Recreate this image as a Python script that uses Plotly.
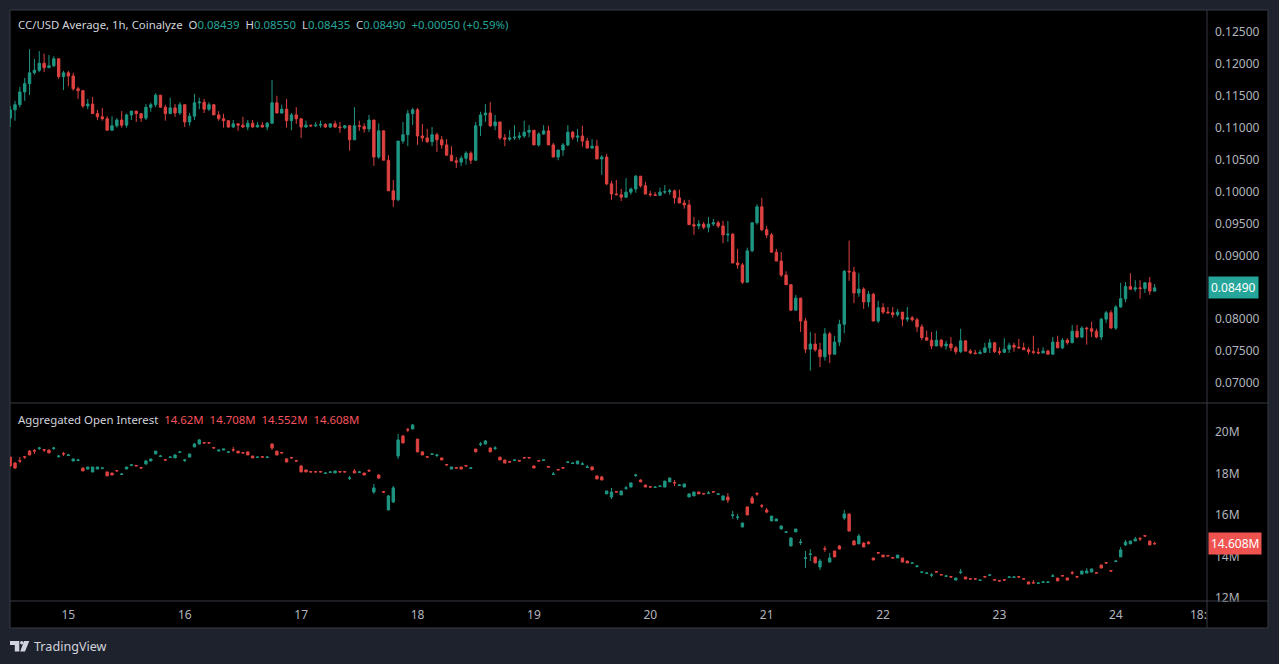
import pandas as pd
import plotly.graph_objects as go

# CC/USD hourly candles, Dec 14 12:00 -> Dec 24 08:00
price_open_first = 0.1115
price_close = [
    0.1128, 0.1136, 0.1156, 0.1169, 0.1186, 0.1190, 0.1201, 0.1194, 0.1197, 0.1208,
    0.1180, 0.1186, 0.1181, 0.1161, 0.1158, 0.1134, 0.1137, 0.1122, 0.1117, 0.1114,
    0.1096, 0.1103, 0.1112, 0.1104, 0.1120, 0.1126, 0.1122, 0.1115, 0.1132, 0.1136,
    0.1151, 0.1132, 0.1122, 0.1131, 0.1123, 0.1136, 0.1109, 0.1118, 0.1139, 0.1140,
    0.1129, 0.1136, 0.1120, 0.1114, 0.1111, 0.1101, 0.1106, 0.1104, 0.1101, 0.1107,
    0.1101, 0.1104, 0.1101, 0.1107, 0.1139, 0.1123, 0.1129, 0.1111, 0.1120, 0.1114,
    0.1101, 0.1104, 0.1103, 0.1104, 0.1105, 0.1101, 0.1106, 0.1101, 0.1100, 0.1103,
    0.1081, 0.1103, 0.1102, 0.1098, 0.1112, 0.1054, 0.1095, 0.1049, 0.1001, 0.0987,
    0.1079, 0.1089, 0.1122, 0.1128, 0.1087, 0.1084, 0.1078, 0.1089, 0.1081, 0.1073,
    0.1057, 0.1048, 0.1046, 0.1052, 0.1060, 0.1049, 0.1103, 0.1120, 0.1123, 0.1103,
    0.1109, 0.1084, 0.1082, 0.1084, 0.1085, 0.1087, 0.1093, 0.1096, 0.1073, 0.1090,
    0.1095, 0.1073, 0.1054, 0.1065, 0.1073, 0.1093, 0.1085, 0.1087, 0.1079, 0.1068,
    0.1071, 0.1051, 0.1054, 0.1012, 0.0996, 0.0995, 0.0991, 0.0999, 0.1004, 0.1024,
    0.1009, 0.0996, 0.0995, 0.0994, 0.0999, 0.1000, 0.1001, 0.0990, 0.0982, 0.0979,
    0.0948, 0.0946, 0.0949, 0.0944, 0.0949, 0.0951, 0.0946, 0.0932, 0.0933, 0.0888,
    0.0885, 0.0858, 0.0907, 0.0951, 0.0976, 0.0940, 0.0932, 0.0905, 0.0891, 0.0869,
    0.0854, 0.0814, 0.0833, 0.0797, 0.0753, 0.0761, 0.0752, 0.0741, 0.0777, 0.0745,
    0.0764, 0.0792, 0.0875, 0.0874, 0.0841, 0.0847, 0.0827, 0.0839, 0.0797, 0.0818,
    0.0811, 0.0810, 0.0807, 0.0811, 0.0800, 0.0802, 0.0799, 0.0788, 0.0771, 0.0767,
    0.0758, 0.0767, 0.0758, 0.0761, 0.0755, 0.0749, 0.0766, 0.0750, 0.0747, 0.0746,
    0.0748, 0.0755, 0.0763, 0.0749, 0.0748, 0.0753, 0.0759, 0.0756, 0.0755, 0.0752,
    0.0749, 0.0748, 0.0747, 0.0750, 0.0745, 0.0764, 0.0755, 0.0767, 0.0763, 0.0781,
    0.0772, 0.0786, 0.0785, 0.0781, 0.0772, 0.0800, 0.0810, 0.0786, 0.0819, 0.0832,
    0.0851, 0.0847, 0.0849, 0.0848, 0.0857, 0.08439, 0.0849,
]
price_high = [
    0.1134, 0.1142, 0.1164, 0.1178, 0.1223, 0.1208, 0.1220, 0.1216, 0.1214, 0.1212,
    0.1208, 0.1189, 0.1189, 0.1186, 0.1164, 0.1159, 0.1145, 0.1148, 0.1128, 0.1131,
    0.1118, 0.1118, 0.1115, 0.1126, 0.1122, 0.1126, 0.1126, 0.1123, 0.1137, 0.1139,
    0.1154, 0.1151, 0.1136, 0.1147, 0.1137, 0.1140, 0.1136, 0.1123, 0.1153, 0.1147,
    0.1145, 0.1140, 0.1137, 0.1126, 0.1122, 0.1112, 0.1112, 0.1107, 0.1117, 0.1112,
    0.1112, 0.1109, 0.1109, 0.1109, 0.1175, 0.1150, 0.1136, 0.1145, 0.1123, 0.1132,
    0.1115, 0.1111, 0.1104, 0.1109, 0.1111, 0.1107, 0.1106, 0.1111, 0.1109, 0.1104,
    0.1104, 0.1132, 0.1111, 0.1107, 0.1120, 0.1112, 0.1107, 0.1096, 0.1057, 0.1018,
    0.1079, 0.1109, 0.1128, 0.1131, 0.1131, 0.1106, 0.1098, 0.1101, 0.1092, 0.1087,
    0.1082, 0.1071, 0.1054, 0.1056, 0.1063, 0.1063, 0.1109, 0.1125, 0.1137, 0.1140,
    0.1120, 0.1109, 0.1090, 0.1096, 0.1104, 0.1093, 0.1111, 0.1104, 0.1095, 0.1093,
    0.1104, 0.1103, 0.1076, 0.1065, 0.1076, 0.1104, 0.1095, 0.1098, 0.1103, 0.1084,
    0.1082, 0.1081, 0.1057, 0.1059, 0.1017, 0.1018, 0.1004, 0.1021, 0.1006, 0.1026,
    0.1024, 0.1015, 0.1001, 0.0999, 0.1006, 0.1010, 0.1004, 0.1003, 0.1003, 0.0987,
    0.0987, 0.0960, 0.0955, 0.0952, 0.0960, 0.0957, 0.0954, 0.0954, 0.0954, 0.0935,
    0.0910, 0.0888, 0.0912, 0.0951, 0.0980, 0.0990, 0.0946, 0.0935, 0.0910, 0.0905,
    0.0875, 0.0855, 0.0838, 0.0833, 0.0802, 0.0780, 0.0778, 0.0763, 0.0786, 0.0780,
    0.0774, 0.0799, 0.0877, 0.0923, 0.0882, 0.0872, 0.0850, 0.0844, 0.0841, 0.0829,
    0.0825, 0.0819, 0.0819, 0.0816, 0.0811, 0.0819, 0.0805, 0.0802, 0.0792, 0.0782,
    0.0780, 0.0782, 0.0769, 0.0766, 0.0772, 0.0758, 0.0785, 0.0766, 0.0753, 0.0752,
    0.0752, 0.0763, 0.0769, 0.0764, 0.0756, 0.0770, 0.0763, 0.0763, 0.0769, 0.0763,
    0.0756, 0.0774, 0.0755, 0.0756, 0.0752, 0.0772, 0.0774, 0.0770, 0.0770, 0.0791,
    0.0791, 0.0789, 0.0788, 0.0796, 0.0785, 0.0802, 0.0813, 0.0814, 0.0822, 0.0857,
    0.0858, 0.0872, 0.0861, 0.0861, 0.0858, 0.0866, 0.0855,
]
price_low = [
    0.1101, 0.1111, 0.1132, 0.1142, 0.1151, 0.1183, 0.1187, 0.1187, 0.1194, 0.1195,
    0.1176, 0.1159, 0.1165, 0.1158, 0.1145, 0.1131, 0.1129, 0.1122, 0.1112, 0.1111,
    0.1096, 0.1096, 0.1100, 0.1100, 0.1100, 0.1112, 0.1109, 0.1109, 0.1112, 0.1125,
    0.1132, 0.1132, 0.1111, 0.1122, 0.1117, 0.1120, 0.1101, 0.1103, 0.1112, 0.1129,
    0.1123, 0.1126, 0.1120, 0.1111, 0.1100, 0.1100, 0.1100, 0.1095, 0.1100, 0.1096,
    0.1100, 0.1101, 0.1100, 0.1096, 0.1106, 0.1123, 0.1122, 0.1100, 0.1096, 0.1106,
    0.1084, 0.1100, 0.1101, 0.1101, 0.1100, 0.1100, 0.1100, 0.1100, 0.1092, 0.1098,
    0.1064, 0.1081, 0.1095, 0.1092, 0.1093, 0.1040, 0.1051, 0.1049, 0.1001, 0.0976,
    0.0985, 0.1075, 0.1071, 0.1104, 0.1073, 0.1078, 0.1076, 0.1071, 0.1062, 0.1067,
    0.1056, 0.1048, 0.1037, 0.1040, 0.1042, 0.1043, 0.1049, 0.1087, 0.1109, 0.1101,
    0.1096, 0.1081, 0.1071, 0.1079, 0.1081, 0.1081, 0.1084, 0.1085, 0.1073, 0.1070,
    0.1089, 0.1073, 0.1054, 0.1049, 0.1056, 0.1071, 0.1081, 0.1078, 0.1070, 0.1068,
    0.1068, 0.1051, 0.1026, 0.1010, 0.0987, 0.0994, 0.0985, 0.0990, 0.0995, 0.0998,
    0.1006, 0.0996, 0.0992, 0.0993, 0.0993, 0.0996, 0.0995, 0.0981, 0.0982, 0.0973,
    0.0948, 0.0932, 0.0941, 0.0941, 0.0936, 0.0946, 0.0943, 0.0919, 0.0921, 0.0888,
    0.0879, 0.0855, 0.0857, 0.0905, 0.0948, 0.0938, 0.0927, 0.0904, 0.0891, 0.0866,
    0.0854, 0.0813, 0.0814, 0.0780, 0.0747, 0.0719, 0.0749, 0.0725, 0.0735, 0.0731,
    0.0745, 0.0758, 0.0778, 0.0860, 0.0825, 0.0835, 0.0816, 0.0819, 0.0797, 0.0794,
    0.0808, 0.0808, 0.0802, 0.0804, 0.0789, 0.0796, 0.0796, 0.0780, 0.0767, 0.0767,
    0.0753, 0.0758, 0.0755, 0.0752, 0.0750, 0.0745, 0.0747, 0.0749, 0.0745, 0.0745,
    0.0745, 0.0747, 0.0747, 0.0747, 0.0744, 0.0747, 0.0747, 0.0749, 0.0754, 0.0752,
    0.0745, 0.0745, 0.0745, 0.0747, 0.0745, 0.0745, 0.0755, 0.0753, 0.0760, 0.0763,
    0.0770, 0.0770, 0.0760, 0.0772, 0.0770, 0.0767, 0.0794, 0.0785, 0.0783, 0.0818,
    0.0827, 0.0846, 0.0843, 0.0832, 0.0841, 0.0838, 0.08435,
]

# Aggregated open interest, millions
oi_open = [
    18.80, 18.51, 18.63, 18.82, 19.09, 19.11, 19.22, 19.16, 19.14, 19.22,
    18.83, 18.97, 18.88, 18.61, 18.64, 18.27, 18.22, 18.08, 18.22, 18.25,
    18.08, 18.03, 18.15, 17.96, 18.22, 18.40, 18.39, 18.29, 18.47, 18.61,
    18.95, 18.83, 18.68, 18.78, 18.76, 19.03, 18.64, 18.80, 19.29, 19.43,
    19.50, 19.50, 19.26, 19.09, 19.14, 19.03, 19.16, 19.09, 19.02, 19.05,
    18.85, 18.78, 18.82, 18.78, 19.43, 19.09, 19.02, 18.71, 18.78, 18.63,
    18.37, 18.18, 18.10, 18.10, 18.10, 18.01, 18.06, 18.03, 18.10, 18.10,
    17.77, 18.13, 18.06, 18.03, 18.15, 17.11, 17.93, 17.13, 16.24, 16.63,
    18.85, 19.82, 20.13, 20.16, 19.67, 19.05, 18.82, 18.93, 18.88, 18.76,
    18.44, 18.22, 18.29, 18.32, 18.39, 18.25, 19.19, 19.41, 19.43, 19.24,
    19.22, 18.80, 18.66, 18.58, 18.64, 18.63, 18.78, 18.78, 18.37, 18.63,
    18.64, 18.34, 17.96, 18.20, 18.29, 18.54, 18.49, 18.47, 18.45, 18.30,
    18.32, 17.89, 17.84, 17.02, 16.87, 17.13, 16.97, 17.29, 17.35, 17.91,
    17.69, 17.45, 17.37, 17.33, 17.38, 17.35, 17.60, 17.57, 17.43, 17.35,
    16.87, 16.92, 17.11, 17.04, 17.04, 17.13, 17.00, 16.72, 16.87, 15.98,
    15.88, 15.42, 16.39, 16.82, 17.04, 16.45, 16.24, 15.71, 15.71, 15.32,
    15.16, 14.50, 15.18, 14.67, 13.90, 14.09, 13.97, 13.48, 14.37, 13.72,
    14.26, 14.50, 15.85, 16.05, 14.74, 14.60, 14.64, 14.69, 13.92, 14.18,
    14.06, 14.04, 13.94, 13.92, 13.92, 13.77, 13.66, 13.51, 13.22, 13.17,
    13.08, 13.26, 13.12, 13.03, 13.02, 12.85, 13.22, 13.00, 12.92, 12.92,
    12.83, 13.02, 13.08, 12.87, 12.83, 12.87, 12.98, 12.98, 13.02, 12.92,
    12.76, 12.73, 12.69, 12.74, 12.74, 13.03, 12.95, 13.07, 12.95, 13.21,
    13.02, 13.14, 13.19, 13.24, 13.21, 13.58, 13.70, 13.31, 13.75, 13.97,
    14.55, 14.60, 14.74, 14.86, 15.00, 14.74, 14.62,
]
oi_high = [
    18.80, 18.56, 18.80, 18.85, 19.14, 19.19, 19.29, 19.19, 19.16, 19.29,
    18.90, 19.05, 18.95, 18.71, 18.71, 18.30, 18.32, 18.32, 18.32, 18.32,
    18.10, 18.03, 18.15, 18.03, 18.32, 18.47, 18.42, 18.29, 18.66, 18.71,
    19.09, 18.90, 18.68, 18.85, 18.95, 19.09, 18.71, 18.95, 19.48, 19.67,
    19.50, 19.50, 19.26, 19.16, 19.19, 19.07, 19.29, 19.09, 19.02, 19.07,
    18.85, 18.82, 18.82, 18.85, 19.48, 19.09, 19.05, 18.76, 18.80, 18.66,
    18.42, 18.18, 18.10, 18.10, 18.10, 18.05, 18.10, 18.13, 18.10, 18.10,
    17.89, 18.22, 18.13, 18.03, 18.22, 17.50, 17.98, 17.16, 16.97, 17.40,
    19.92, 19.87, 20.21, 20.40, 19.67, 19.09, 18.85, 18.97, 18.95, 18.76,
    18.44, 18.32, 18.29, 18.32, 18.42, 18.32, 19.19, 19.53, 19.63, 19.26,
    19.33, 18.80, 18.66, 18.61, 18.68, 18.63, 18.78, 18.78, 18.40, 18.63,
    18.68, 18.34, 18.08, 18.20, 18.29, 18.61, 18.54, 18.61, 18.56, 18.42,
    18.37, 17.89, 17.89, 17.16, 17.31, 17.16, 17.16, 17.40, 17.55, 17.98,
    17.72, 17.45, 17.40, 17.37, 17.42, 17.64, 17.79, 17.69, 17.47, 17.50,
    17.04, 17.13, 17.13, 17.04, 17.16, 17.13, 17.06, 16.94, 17.06, 16.19,
    16.05, 15.63, 16.41, 16.92, 17.11, 16.53, 16.34, 15.95, 15.81, 15.47,
    15.20, 14.91, 15.32, 14.84, 14.26, 14.35, 13.97, 13.87, 14.50, 14.16,
    14.26, 14.55, 16.24, 16.05, 14.79, 15.08, 14.69, 14.74, 13.92, 14.21,
    14.06, 14.04, 13.94, 14.06, 13.92, 13.79, 13.70, 13.58, 13.27, 13.24,
    13.19, 13.26, 13.14, 13.10, 13.05, 12.97, 13.39, 13.00, 12.92, 12.92,
    12.87, 13.02, 13.12, 12.87, 12.85, 12.87, 13.02, 13.02, 13.05, 12.92,
    12.78, 12.85, 12.73, 12.81, 12.78, 13.14, 12.95, 13.07, 12.97, 13.29,
    13.05, 13.29, 13.43, 13.39, 13.21, 13.58, 13.72, 13.34, 13.82, 14.45,
    14.79, 14.74, 14.94, 14.94, 15.03, 14.74, 14.708,
]
oi_low = [
    18.32, 18.22, 18.51, 18.71, 18.90, 18.95, 19.14, 19.05, 19.00, 19.14,
    18.76, 18.85, 18.85, 18.61, 18.61, 18.13, 18.20, 18.06, 18.22, 18.22,
    17.89, 17.93, 18.11, 17.96, 18.22, 18.40, 18.37, 18.22, 18.42, 18.61,
    18.95, 18.80, 18.61, 18.76, 18.76, 19.00, 18.56, 18.80, 19.29, 19.43,
    19.48, 19.46, 19.22, 19.09, 19.14, 19.03, 19.05, 19.00, 18.97, 18.90,
    18.76, 18.78, 18.78, 18.78, 19.14, 18.90, 18.97, 18.56, 18.73, 18.56,
    18.08, 18.08, 18.06, 18.06, 18.06, 18.01, 18.06, 18.03, 18.06, 18.06,
    17.69, 18.03, 18.06, 17.93, 18.08, 17.02, 17.74, 17.06, 16.24, 16.58,
    18.71, 19.48, 20.01, 20.16, 19.05, 18.90, 18.78, 18.93, 18.80, 18.66,
    18.40, 18.22, 18.25, 18.22, 18.35, 18.25, 19.05, 19.33, 19.43, 19.05,
    19.14, 18.66, 18.51, 18.56, 18.64, 18.58, 18.74, 18.74, 18.27, 18.59,
    18.64, 18.30, 17.93, 18.16, 18.25, 18.51, 18.49, 18.47, 18.42, 18.27,
    18.18, 17.74, 17.69, 17.02, 16.77, 17.11, 16.97, 17.21, 17.35, 17.84,
    17.60, 17.35, 17.33, 17.33, 17.38, 17.35, 17.60, 17.40, 17.43, 17.35,
    16.87, 16.92, 17.02, 17.00, 17.02, 17.09, 17.00, 16.72, 16.58, 15.81,
    15.76, 15.40, 16.00, 16.53, 16.92, 16.34, 16.09, 15.71, 15.71, 15.32,
    15.14, 14.50, 15.18, 14.55, 13.43, 13.77, 13.68, 13.34, 14.21, 13.72,
    13.97, 14.35, 15.76, 15.22, 14.55, 14.60, 14.45, 14.60, 13.82, 14.11,
    13.97, 14.00, 13.90, 13.92, 13.72, 13.68, 13.66, 13.46, 13.22, 13.14,
    13.00, 13.22, 13.08, 13.00, 12.95, 12.85, 13.14, 12.90, 12.88, 12.88,
    12.83, 12.98, 13.08, 12.83, 12.76, 12.83, 12.98, 12.98, 12.95, 12.88,
    12.66, 12.69, 12.69, 12.71, 12.74, 13.00, 12.81, 13.03, 12.85, 13.10,
    12.95, 13.14, 13.19, 13.24, 13.17, 13.43, 13.63, 13.24, 13.72, 13.97,
    14.50, 14.60, 14.74, 14.74, 14.94, 14.55, 14.552,
]
oi_close = [
    18.37, 18.27, 18.61, 18.80, 18.90, 19.09, 19.24, 19.14, 19.00, 19.24,
    18.85, 18.95, 18.90, 18.71, 18.66, 18.13, 18.32, 18.32, 18.32, 18.27,
    17.89, 17.93, 18.13, 17.98, 18.32, 18.42, 18.37, 18.27, 18.61, 18.71,
    19.09, 18.85, 18.66, 18.80, 18.90, 19.05, 18.66, 18.95, 19.43, 19.63,
    19.48, 19.48, 19.24, 19.14, 19.19, 19.05, 19.14, 19.00, 19.00, 18.90,
    18.76, 18.80, 18.80, 18.80, 19.24, 18.90, 19.00, 18.56, 18.76, 18.61,
    18.08, 18.08, 18.08, 18.08, 18.08, 18.03, 18.08, 18.13, 18.08, 18.08,
    17.79, 18.03, 18.08, 17.93, 18.13, 17.31, 17.79, 17.11, 16.92, 17.31,
    19.63, 19.48, 20.11, 20.35, 19.05, 18.90, 18.80, 18.95, 18.90, 18.66,
    18.42, 18.32, 18.27, 18.22, 18.37, 18.27, 19.05, 19.43, 19.58, 19.05,
    19.24, 18.66, 18.51, 18.56, 18.66, 18.61, 18.76, 18.76, 18.27, 18.61,
    18.66, 18.32, 17.98, 18.18, 18.27, 18.56, 18.51, 18.61, 18.47, 18.32,
    18.18, 17.74, 17.69, 17.16, 17.11, 17.11, 17.16, 17.31, 17.55, 17.93,
    17.60, 17.35, 17.35, 17.35, 17.40, 17.64, 17.79, 17.55, 17.45, 17.50,
    17.02, 17.11, 17.02, 17.02, 17.06, 17.11, 17.02, 16.92, 16.72, 16.00,
    15.90, 15.61, 16.00, 16.58, 17.02, 16.43, 16.14, 15.95, 15.81, 15.47,
    15.18, 14.89, 15.32, 14.69, 13.92, 14.11, 13.68, 13.77, 14.35, 13.92,
    13.97, 14.35, 16.05, 15.22, 14.55, 14.98, 14.45, 14.60, 13.82, 14.16,
    13.97, 14.02, 13.92, 14.06, 13.72, 13.68, 13.68, 13.53, 13.24, 13.19,
    13.10, 13.24, 13.10, 13.05, 13.00, 12.95, 13.24, 12.90, 12.90, 12.90,
    12.85, 13.00, 13.10, 12.85, 12.81, 12.85, 13.00, 13.00, 13.00, 12.90,
    12.66, 12.71, 12.71, 12.76, 12.76, 13.05, 12.81, 13.05, 12.85, 13.19,
    13.00, 13.29, 13.29, 13.39, 13.19, 13.43, 13.68, 13.29, 13.77, 14.31,
    14.69, 14.74, 14.84, 14.84, 14.98, 14.55, 14.608,
]

# 0.085 is hidden behind the last-price label, as in TradingView
price_ticks = [0.070, 0.075, 0.080, 0.090, 0.095, 0.100, 0.105, 0.110, 0.115, 0.120, 0.125]
oi_ticks = [12, 14, 16, 18, 20]
oi_tick_text = ["12M", "14M", "16M", "18M", "20M"]
day_ticks = pd.date_range("2025-12-15", "2025-12-24", freq="D")
day_labels = [str(d.day) for d in day_ticks]

times = pd.date_range("2025-12-14 12:00", periods=len(price_close), freq="h")
price_open = [price_open_first] + price_close[:-1]

UP = "#1f9683"
DOWN = "#dd4240"
GRID = "#363a45"
TXT = "#b2b5be"
FONT = "Noto Sans, sans-serif"
x_range = ["2025-12-14 11:58", "2025-12-24 18:48"]

# pixel -> paper helpers (plot area is x 10..1207, y 10..601)
def px(x):
    return (x - 10) / 1197

def py(y):
    return (601 - y) / 591

split = py(403)

fig = go.Figure()
candle_style = dict(
    increasing=dict(line=dict(color=UP, width=1), fillcolor=UP),
    decreasing=dict(line=dict(color=DOWN, width=1), fillcolor=DOWN),
    whiskerwidth=0,
)
fig.add_trace(go.Candlestick(x=times, open=price_open, high=price_high, low=price_low,
                             close=price_close, xaxis="x", yaxis="y", name="CC/USD",
                             **candle_style))
fig.add_trace(go.Candlestick(x=times, open=oi_open, high=oi_high, low=oi_low,
                             close=oi_close, xaxis="x2", yaxis="y2", name="OI",
                             **candle_style))

axis_font = dict(family=FONT, size=12, color=TXT)
fig.update_layout(
    width=1279, height=664,
    margin=dict(l=10, r=72, t=10, b=63),
    paper_bgcolor="#1e222d", plot_bgcolor="#000000",
    showlegend=False,
    font=dict(family=FONT, size=12, color=TXT),
    xaxis=dict(domain=[0, 1], anchor="y", range=x_range, showticklabels=False,
               showgrid=False, zeroline=False, showline=False,
               rangeslider=dict(visible=False)),
    yaxis=dict(domain=[split, 1], anchor="x", side="right",
               range=[0.06686, 0.12844], tickvals=price_ticks, tickformat=".5f",
               showgrid=False, zeroline=False, ticks="", ticklabelstandoff=7,
               tickfont=axis_font),
    xaxis2=dict(domain=[0, 1], anchor="y2", range=x_range, tickvals=day_ticks,
                ticktext=day_labels, showgrid=False, zeroline=False, ticks="",
                ticklabelstandoff=5, tickfont=axis_font,
                rangeslider=dict(visible=False)),
    yaxis2=dict(domain=[0, split], anchor="x2", side="right",
                range=[11.838, 21.416], tickvals=oi_ticks, ticktext=oi_tick_text,
                showgrid=False, zeroline=False, ticks="", ticklabelstandoff=7,
                tickfont=axis_font),
)

shapes = [
    # black chart panel incl. axis strips
    dict(type="rect", xref="paper", yref="paper", x0=0, x1=px(1268), y0=py(628), y1=1,
         fillcolor="#000000", line=dict(color=GRID, width=1), layer="below"),
    dict(type="line", xref="paper", yref="paper", x0=1, x1=1, y0=py(628), y1=1,
         line=dict(color=GRID, width=1)),
    dict(type="line", xref="paper", yref="paper", x0=0, x1=px(1268), y0=split, y1=split,
         line=dict(color=GRID, width=1)),
    dict(type="line", xref="paper", yref="paper", x0=0, x1=px(1268), y0=0, y1=0,
         line=dict(color=GRID, width=1)),
    # TradingView logo
    dict(type="path", xref="paper", yref="paper", fillcolor="#d1d4dc", line=dict(width=0),
         path=f"M {px(10)} {py(641)} L {px(19.3)} {py(641)} L {px(19.3)} {py(651.5)} "
              f"L {px(14.8)} {py(651.5)} L {px(14.8)} {py(645)} L {px(10)} {py(645)} Z"),
    dict(type="circle", xref="paper", yref="paper", fillcolor="#d1d4dc", line=dict(width=0),
         x0=px(20.0), x1=px(23.4), y0=py(644.5), y1=py(641)),
    dict(type="path", xref="paper", yref="paper", fillcolor="#d1d4dc", line=dict(width=0),
         path=f"M {px(24.0)} {py(641)} L {px(29.3)} {py(641)} L {px(25.0)} {py(651.5)} "
              f"L {px(20.2)} {py(651.5)} Z"),
]
fig.update_layout(shapes=shapes)

teal = "#26a69a"
red = "#f7525f"
header = (
    "CC/USD Average, 1h, Coinalyze  "
    f"O<span style='color:{teal}'>0.08439</span>  "
    f"H<span style='color:{teal}'>0.08550</span>  "
    f"L<span style='color:{teal}'>0.08435</span>  "
    f"C<span style='color:{teal}'>0.08490</span>  "
    f"<span style='color:{teal}'>+0.00050 (+0.59%)</span>"
)
oi_header = (
    "Aggregated Open Interest  "
    f"<span style='color:{red}'>14.62M  14.708M  14.552M  14.608M</span>"
)
annotations = [
    dict(text=header, xref="paper", yref="paper", x=px(16), y=py(24), xanchor="left",
         yanchor="middle", showarrow=False, font=dict(family=FONT, size=11.4, color="#d1d4dc")),
    dict(text=oi_header, xref="paper", yref="paper", x=px(16), y=py(419), xanchor="left",
         yanchor="middle", showarrow=False, font=dict(family=FONT, size=11.4, color="#d1d4dc")),
    dict(text="0.08490", xref="paper", yref="y", x=px(1208), y=price_close[-1],
         xanchor="left", yanchor="middle", showarrow=False, bgcolor=teal, borderpad=2,
         font=dict(family=FONT, size=12, color="#ffffff")),
    dict(text="14.608M", xref="paper", yref="y2", x=px(1208), y=oi_close[-1],
         xanchor="left", yanchor="middle", showarrow=False, bgcolor="#ef5350", borderpad=2,
         font=dict(family=FONT, size=12, color="#ffffff")),
    dict(text="18:", xref="paper", yref="paper", x=px(1198), y=py(614), xanchor="center",
         yanchor="middle", showarrow=False, font=axis_font),
    dict(text="TradingView", xref="paper", yref="paper", x=px(32), y=py(646),
         xanchor="left", yanchor="middle", showarrow=False,
         font=dict(family=FONT, size=12.6, color="#d1d4dc")),
]
fig.update_layout(annotations=annotations)

fig.write_html("out.html",
               config={"displayModeBar": False},
               post_script="document.body.style.margin='0';"
                           "document.body.style.background='#1e222d';")
